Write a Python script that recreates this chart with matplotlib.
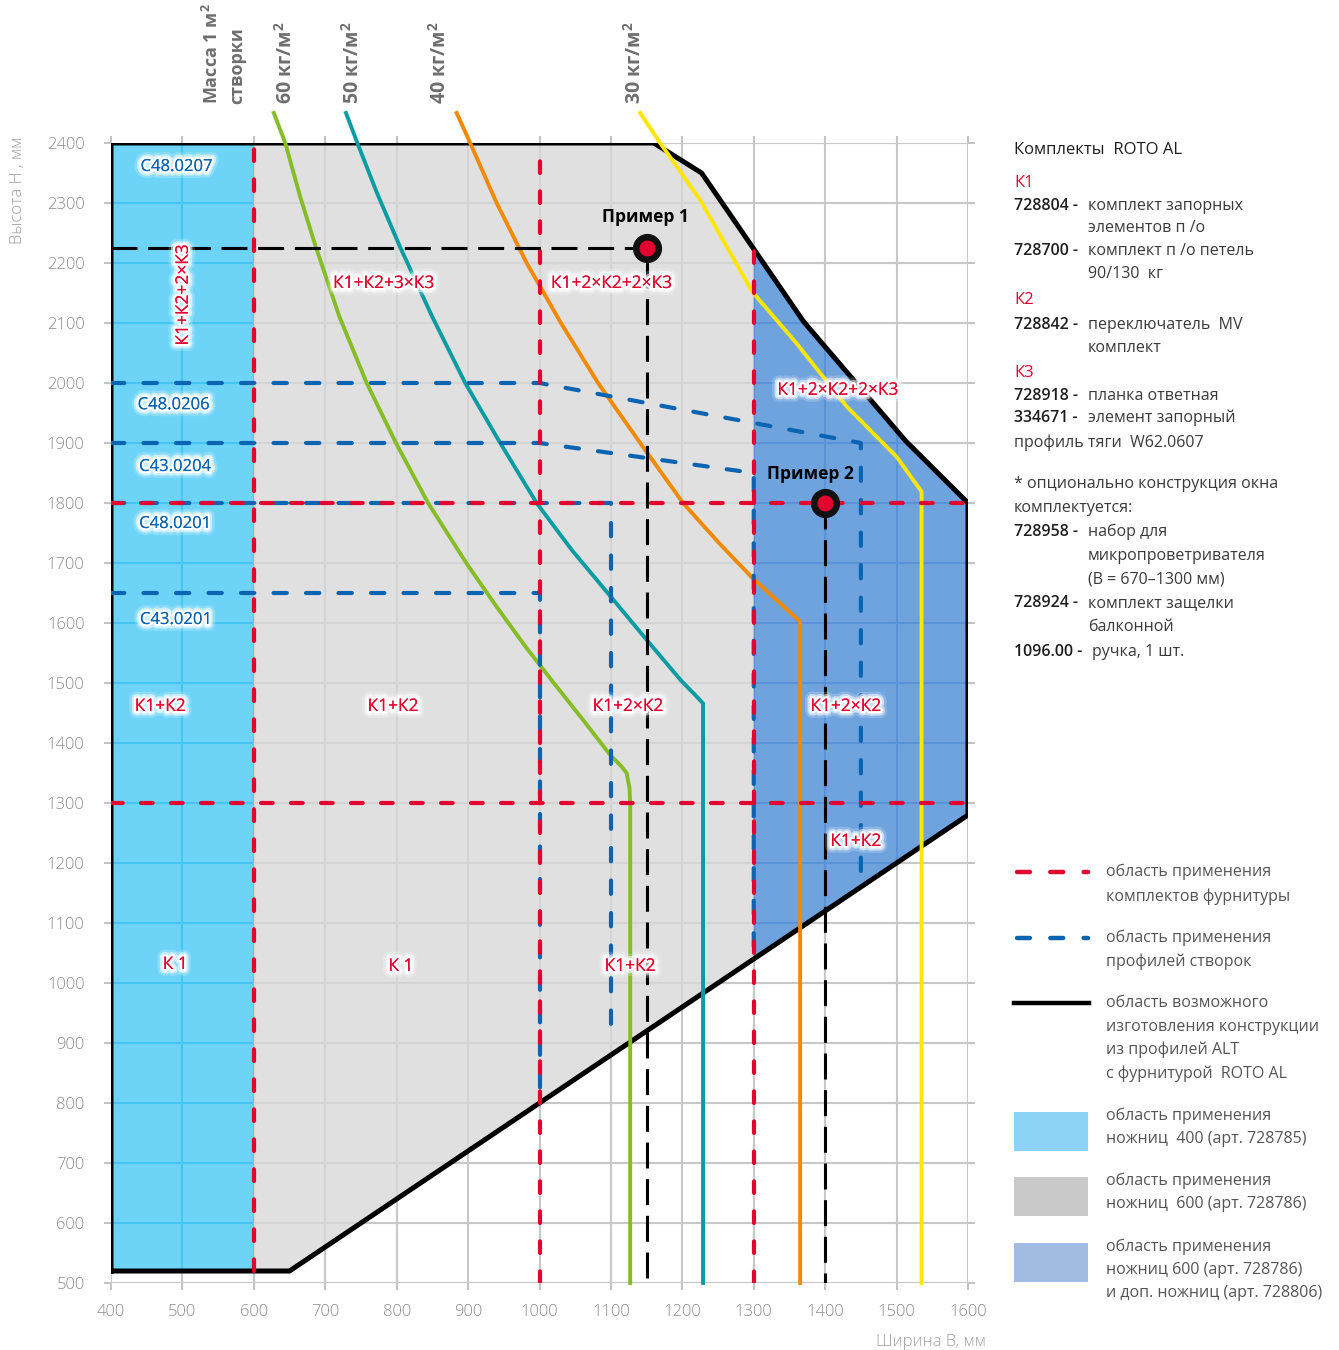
import matplotlib
matplotlib.use("Agg")
import matplotlib.pyplot as plt
from matplotlib.patches import Polygon, Rectangle
from matplotlib.lines import Line2D
import matplotlib.patheffects as pe

plt.rcParams['font.family'] = ['Open Sans', 'DejaVu Sans']
plt.rcParams['mathtext.fontset'] = 'custom'
plt.rcParams['mathtext.rm'] = 'Open Sans'
plt.rcParams['mathtext.bf'] = 'Open Sans:bold'

W, H = 1339, 1350
fig = plt.figure(figsize=(W / 100, H / 100), dpi=100)

def fx(px):
    return px / W

def fy(py):
    return 1 - py / H

# ---------------- data ----------------
x_ticks = [400, 500, 600, 700, 800, 900, 1000, 1100, 1200, 1300, 1400, 1500, 1600]
y_ticks = [500, 600, 700, 800, 900, 1000, 1100, 1200, 1300, 1400, 1500, 1600, 1700,
           1800, 1900, 2000, 2100, 2200, 2300, 2400]

outline_x = [400, 400, 1160, 1227, 1370, 1513, 1600, 1600, 650, 400]
outline_y = [520, 2400, 2400, 2350, 2102, 1903, 1800, 1280, 520, 520]

scis400_x = [400, 400, 600, 600]
scis400_y = [520, 2400, 2400, 520]
scis600_x = [600, 600, 1160, 1227, 1300, 1300, 650]
scis600_y = [520, 2400, 2400, 2350, 2223, 1040, 520]
scis600x_x = [1300, 1370, 1513, 1600, 1600, 1300]
scis600x_y = [2223, 2102, 1903, 1800, 1280, 1040]

w60_x = [628, 644, 665, 687, 720, 758, 799, 844, 898, 940, 982, 1020, 1060, 1099, 1114, 1122, 1126, 1127, 1127]
w60_y = [2450, 2400, 2310, 2226, 2110, 2000, 1900, 1800, 1699, 1627, 1558, 1500, 1440, 1380, 1362, 1350, 1325, 1300, 500]
w50_x = [729, 745, 772, 805, 850, 896, 945, 996, 1045, 1099, 1150, 1199, 1218, 1229, 1229]
w50_y = [2450, 2400, 2318, 2226, 2110, 2000, 1900, 1800, 1722, 1645, 1572, 1503, 1480, 1466, 500]
w40_x = [884, 903, 940, 982, 1030, 1082, 1141, 1201, 1250, 1299, 1335, 1365, 1365]
w40_y = [2450, 2400, 2300, 2200, 2100, 2000, 1900, 1800, 1735, 1674, 1635, 1602, 500]
w30_x = [1141, 1169, 1225, 1298, 1360, 1430, 1500, 1535, 1535]
w30_y = [2450, 2400, 2305, 2152, 2066, 1961, 1877, 1819, 500]
weight_labels = [r"60 кг/м$^\mathbf{2}$", r"50 кг/м$^\mathbf{2}$",
                 r"40 кг/м$^\mathbf{2}$", r"30 кг/м$^\mathbf{2}$"]

red_v_x = [600, 1000, 1300]
red_v_y0 = [520, 500, 500]
red_v_y1 = [2400, 2400, 2223]
red_h_y = [1800, 1300]

blue1_x = [400, 1000, 1450, 1450]
blue1_y = [2000, 2000, 1900, 1160]
blue2_x = [400, 1000, 1300, 1300]
blue2_y = [1900, 1900, 1850, 1040]
blue3_x = [400, 1100, 1100]
blue3_y = [1800, 1800, 900]
blue4_x = [400, 1000, 1000]
blue4_y = [1650, 1650, 800]

ex1_x = [400, 1150, 1150]
ex1_y = [2225, 2225, 500]
ex2_x = [1400, 1400]
ex2_y = [1800, 500]
examples_x = [1150, 1400]
examples_y = [2225, 1800]
examples_lbl = ["Пример 1", "Пример 2"]
examples_lbl_x = [1148, 1379]
examples_lbl_y = [2277, 1848]

kit_labels = ["К1+К2+3×К3", "К1+2×К2+2×К3", "К1+2×К2+2×К3", "К1+К2", "К1+К2",
              "К1+2×К2", "К1+2×К2", "К1+К2", "К 1", "К 1", "К1+К2"]
kit_x = [782, 1101, 1418, 469, 795, 1124, 1429, 1443, 490, 806, 1127]
kit_y = [2165, 2165, 1987, 1460, 1460, 1460, 1460, 1235, 1030, 1027, 1027]
kit_vert = ("К1+К2+2×К3", 502, 2147)

prof_labels = ["C48.0207", "C48.0206", "C43.0204", "C48.0201", "C43.0201"]
prof_x = [492, 488, 490, 490, 491]
prof_y = [2360, 1963, 1860, 1765, 1605]

# ---------------- colours ----------------
RED = '#E4032E'
BLUE = '#0A64B2'
C400 = '#6DD4F8'
C600 = '#E0E0E0'
C600X = '#6FA3DE'

ax = fig.add_axes([fx(111), fy(1283), (968 - 111) / W, 1140 / H])
ax.set_xlim(400, 1600)
ax.set_ylim(500, 2400)
for s in ax.spines.values():
    s.set_visible(False)
ax.set_xticks(x_ticks)
ax.set_yticks(y_ticks)
ax.tick_params(axis='both', colors='#C4C4C4', width=1.5, length=5,
               labelcolor='#8C8C8C', labelsize=12)
ax.tick_params(axis='x', pad=10)
ax.tick_params(axis='y', pad=14)
ax.tick_params(top=True, right=True, labeltop=False, labelright=False)
for t in ax.get_xticklabels() + ax.get_yticklabels():
    t.set_fontweight('light')

# white-area grid
ax.vlines(x_ticks, 500, 2400, colors='#C8C8C8', lw=1.5, zorder=0.5)
ax.hlines(y_ticks, 400, 1600, colors='#C8C8C8', lw=1.5, zorder=0.5)

regions = [(scis400_x, scis400_y, C400, '#45C6F2'),
           (scis600_x, scis600_y, C600, '#D4D4D4'),
           (scis600x_x, scis600x_y, C600X, '#5A92D8')]
for rx, ry, fc, gc in regions:
    p = Polygon(list(zip(rx, ry)), closed=True, facecolor=fc, edgecolor='none', zorder=1)
    ax.add_patch(p)
    lv = ax.vlines(x_ticks, 500, 2400, colors=gc, lw=1.5, zorder=1.5)
    lh = ax.hlines(y_ticks, 400, 1600, colors=gc, lw=1.5, zorder=1.5)
    lv.set_clip_path(p)
    lh.set_clip_path(p)

# outline
ax.plot(outline_x, outline_y, color='black', lw=3.6, zorder=3, solid_joinstyle='miter')

# weight curves
for cx, cy, col in [(w60_x, w60_y, '#86BC25'), (w50_x, w50_y, '#0A9CA3'),
                    (w40_x, w40_y, '#F08A00'), (w30_x, w30_y, '#FFE600')]:
    ax.plot(cx, cy, color=col, lw=2.8, zorder=3.5, clip_on=False, solid_joinstyle='round')

# blue dashed
for bx, by in [(blue1_x, blue1_y), (blue2_x, blue2_y), (blue3_x, blue3_y), (blue4_x, blue4_y)]:
    ax.plot(bx, by, color=BLUE, lw=3.0, dashes=(3.2, 4.6), dash_capstyle='round', zorder=4)

# red dashed
for x, y0, y1 in zip(red_v_x, red_v_y0, red_v_y1):
    ax.plot([x, x], [y0, y1], color=RED, lw=3.0, dashes=(2.8, 4.4), dash_capstyle='round', zorder=4.2)
for y in red_h_y:
    ax.plot([400, 1600], [y, y], color=RED, lw=3.0, dashes=(2.8, 4.4), dash_capstyle='round', zorder=4.2)

# black dashed (examples)
ax.plot(ex1_x, ex1_y, color='black', lw=2.2, dashes=(8.5, 3.5), zorder=4.5)
ax.plot(ex2_x, ex2_y, color='black', lw=2.2, dashes=(8.5, 3.5), zorder=4.5)
ax.plot(examples_x, examples_y, 'o', ms=20, color='#111111', zorder=6)
ax.plot(examples_x, examples_y, 'o', ms=10.5, color=RED, zorder=6.5)
for x, y, t in zip(examples_lbl_x, examples_lbl_y, examples_lbl):
    ax.text(x, y, t, ha='center', va='center', fontsize=12.5, fontweight='bold',
            color='black', zorder=7)

glow = [pe.withStroke(linewidth=10, foreground='white', alpha=0.2),
        pe.withStroke(linewidth=6.5, foreground='white', alpha=0.55),
        pe.withStroke(linewidth=3.5, foreground='white', alpha=1.0), pe.Normal()]
for t, x, y in zip(kit_labels, kit_x, kit_y):
    ax.text(x, y, t, ha='center', va='center', fontsize=12.5, color=RED,
            path_effects=glow, zorder=7)
ax.text(kit_vert[1], kit_vert[2], kit_vert[0], ha='center', va='center', rotation=90,
        fontsize=12.5, color=RED, path_effects=glow, zorder=7)
for t, x, y in zip(prof_labels, prof_x, prof_y):
    ax.text(x, y, t, ha='center', va='center', fontsize=12, color=BLUE,
            path_effects=glow, zorder=7)

# axis titles
fig.text(fx(18), fy(190), "Высота H , мм", rotation=90, ha='center', va='center',
         fontsize=12, color='#A0A0A0', fontweight='light')
fig.text(fx(986), fy(1342), "Ширина B, мм", ha='right', va='center',
         fontsize=12, color='#A0A0A0', fontweight='light')

# top rotated labels
GREY = '#6E6E6E'
fig.text(fx(212), fy(104), r"Масса 1 м$^\mathbf{2}$", rotation=90, ha='center', va='bottom',
         fontsize=13, fontweight='bold', color=GREY)
fig.text(fx(237), fy(104), "створки", rotation=90, ha='center', va='bottom',
         fontsize=13, fontweight='bold', color=GREY)
for t, px in zip(weight_labels, [286, 353, 440, 635]):
    fig.text(fx(px), fy(104), t, rotation=90, ha='center', va='bottom',
             fontsize=14, fontweight='bold', color=GREY)

# right-hand description
DARK = '#1E1E1E'
TXT = '#3A3A3A'
FS = 11.5
fig.text(fx(1014), fy(150), "Комплекты  ROTO AL", fontsize=12, color=DARK, va='center')
rows = [
    ('K', "К1", 183),
    ('N', ("728804 -", "комплект запорных"), 206),
    ('C', "элементов п /о", 228),
    ('N', ("728700 -", "комплект п /о петель"), 251),
    ('C', "90/130  кг", 274),
    ('K', "К2", 300),
    ('N', ("728842 -", "переключатель  MV"), 325),
    ('C', "комплект", 348),
    ('K', "К3", 373),
    ('N', ("728918 -", "планка ответная"), 396),
    ('N', ("334671 -", "элемент запорный"), 418),
    ('P', "профиль тяги  W62.0607", 443),
    ('P', "* опционально конструкция окна", 484),
    ('P', "комплектуется:", 508),
    ('N', ("728958 -", "набор для"), 532),
    ('C', "микропроветривателя", 556),
    ('C', "(B = 670–1300 мм)", 579),
    ('N', ("728924 -", "комплект защелки"), 603),
    ('C', "балконной", 627),
]
for kind, content, py in rows:
    if kind == 'K':
        fig.text(fx(1014), fy(py), content, fontsize=FS + 0.5, color=RED, va='center')
    elif kind == 'N':
        fig.text(fx(1014), fy(py), content[0], fontsize=FS, color=DARK, va='center',
                 fontweight='semibold')
        fig.text(fx(1088), fy(py), content[1], fontsize=FS, color=TXT, va='center')
    elif kind == 'C':
        fig.text(fx(1088), fy(py), content, fontsize=FS, color=TXT, va='center')
    else:
        fig.text(fx(1014), fy(py), content, fontsize=FS, color=TXT, va='center')
fig.text(fx(1014), fy(652), "1096.00 -", fontsize=FS, color=DARK, va='center',
         fontweight='semibold')
fig.text(fx(1092), fy(652), "ручка, 1 шт.", fontsize=FS, color=TXT, va='center')

# legend
LG = '#555555'
fig.add_artist(Line2D([fx(1017), fx(1088)], [fy(872), fy(872)], color=RED, lw=3.2,
                      dashes=(2.9, 4.6), dash_capstyle='round'))
fig.add_artist(Line2D([fx(1017), fx(1088)], [fy(938), fy(938)], color=BLUE, lw=3.2,
                      dashes=(2.9, 4.6), dash_capstyle='round'))
fig.add_artist(Line2D([fx(1014), fx(1089)], [fy(1003), fy(1003)], color='black', lw=3.2))
fig.add_artist(Rectangle((fx(1014), fy(1151)), 74 / W, 39 / H, transform=fig.transFigure,
                         facecolor='#8DD3F5', edgecolor='none'))
fig.add_artist(Rectangle((fx(1014), fy(1216)), 74 / W, 39 / H, transform=fig.transFigure,
                         facecolor='#C8C9C8', edgecolor='none'))
fig.add_artist(Rectangle((fx(1014), fy(1282)), 74 / W, 39 / H, transform=fig.transFigure,
                         facecolor='#A1BDE3', edgecolor='none'))
legend_text = [
    ("область применения", 872), ("комплектов фурнитуры", 897),
    ("область применения", 938), ("профилей створок", 962),
    ("область возможного", 1003), ("изготовления конструкции", 1027),
    ("из профилей ALT", 1050), ("с фурнитурой  ROTO AL", 1074),
    ("область применения", 1116), ("ножниц  400 (арт. 728785)", 1139),
    ("область применения", 1181), ("ножниц  600 (арт. 728786)", 1204),
    ("область применения", 1247), ("ножниц 600 (арт. 728786)", 1270),
    ("и доп. ножниц (арт. 728806)", 1293),
]
for t, py in legend_text:
    fig.text(fx(1106), fy(py), t, fontsize=FS, color=LG, va='center')

fig.savefig("out.png", dpi=100)
